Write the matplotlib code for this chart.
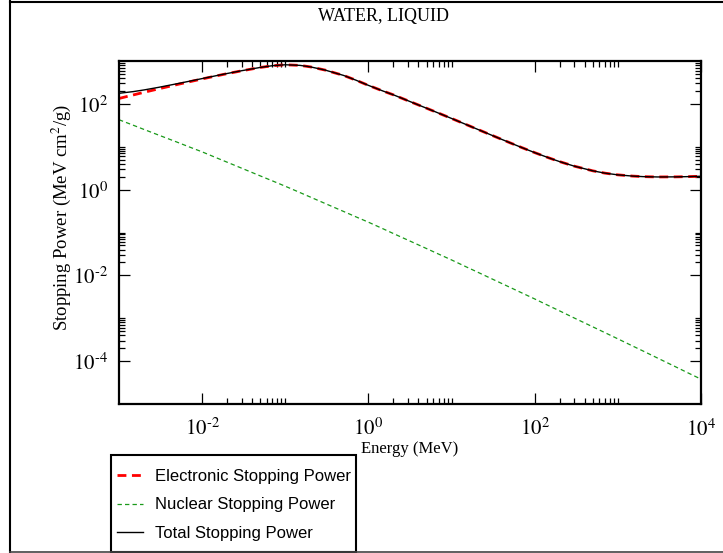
import numpy as np
import matplotlib
matplotlib.use("Agg")
import matplotlib.pyplot as plt
from matplotlib.lines import Line2D
from matplotlib.patches import Rectangle
from matplotlib.ticker import FixedLocator, NullFormatter

plt.rcParams['mathtext.fontset'] = 'stix'

# Proton stopping power in liquid water (MeV cm^2/g)
energy = [1e-3, 1.5e-3, 2e-3, 3e-3, 5e-3, 7e-3, 1e-2, 1.5e-2, 2e-2, 3e-2,
          5e-2, 7e-2, 0.1, 0.15, 0.2, 0.3, 0.5, 0.7, 1, 1.5, 2, 3, 5, 7,
          10, 15, 20, 30, 50, 70, 100, 150, 200, 300, 500, 700, 1000,
          1500, 2000, 3000, 5000, 7000, 10000]

electronic = [133.7, 162.4, 186.1, 224.5, 282.5, 327.2, 381.4, 451.8, 507.0, 591.0,
              706.0, 776.0, 816.0, 790.0, 730.0, 615.0, 462.0, 360.0, 270.0, 199.0,
              162.4, 118.0, 79.1, 60.7, 45.67, 32.92, 26.07, 18.76, 12.45, 9.559,
              7.289, 5.445, 4.492, 3.520, 2.743, 2.423, 2.211, 2.070, 2.010, 1.975,
              1.985, 2.010, 2.050]

nuclear = [42.7, 31.5, 25.3, 18.7, 12.8, 9.9, 7.6, 5.48, 4.36, 3.15,
           2.09, 1.60, 1.20, 0.855, 0.671, 0.477, 0.311, 0.234, 0.174, 0.122,
           0.0944, 0.0661, 0.0422, 0.0313, 0.0229, 0.0158, 0.0122, 0.00843, 0.0053, 0.0039,
           0.00282, 0.00193, 0.00148, 0.00101, 0.00063, 0.000461, 0.000331, 0.000226, 0.000173, 0.000118,
           0.000073, 0.000053, 0.000038]

total = [176.4, 193.9, 211.4, 243.2, 295.3, 337.1, 389.0, 457.3, 511.4, 594.2,
         708.1, 777.6, 817.2, 790.9, 730.7, 615.5, 462.3, 360.2, 270.2, 199.1,
         162.5, 118.1, 79.14, 60.73, 45.69, 32.94, 26.08, 18.77, 12.46, 9.563,
         7.292, 5.447, 4.493, 3.521, 2.744, 2.423, 2.211, 2.070, 2.010, 1.975,
         1.985, 2.010, 2.050]

x_major = [1e-2, 1e0, 1e2, 1e4]
y_major = [1e-4, 1e-2, 1e0, 1e2]
x_labels = [r'$10^{\text{-}2}$', r'$10^{0}$', r'$10^{2}$', r'$10^{4}$']
y_labels = [r'$10^{\text{-}4}$', r'$10^{\text{-}2}$', r'$10^{0}$', r'$10^{2}$']

W, H = 723, 553
fig = plt.figure(figsize=(W / 100, H / 100), dpi=100)
ax = fig.add_axes([119 / W, 1 - 404 / H, 582 / W, 343 / H])

ax.plot(energy, electronic, color='#ff0000', lw=2.0, dashes=(3.2, 2.0),
        label='Electronic Stopping Power')
ax.plot(energy, nuclear, color='#1a9a1a', lw=0.9, dashes=(3.5, 2.5),
        label='Nuclear Stopping Power')
ax.plot(energy, total, color='black', lw=1.0, label='Total Stopping Power')

ax.set_xscale('log')
ax.set_yscale('log')
ax.set_xlim(1e-3, 1e4)
ax.set_ylim(1e-5, 1e3)

# grace-style minor ticks: 2..10 x each major
def minors(majors, lo, hi):
    out = []
    for m in majors + [majors[0] / 100]:
        for k in range(2, 11):
            v = k * m
            if lo < v < hi:
                out.append(v)
    return out

ax.xaxis.set_major_locator(FixedLocator(x_major))
ax.yaxis.set_major_locator(FixedLocator(y_major))
ax.xaxis.set_minor_locator(FixedLocator(minors(x_major, 1e-3, 1e4)))
ax.yaxis.set_minor_locator(FixedLocator(minors(y_major, 1e-5, 1e3)))
ax.set_xticklabels(x_labels)
ax.set_yticklabels(y_labels)
ax.xaxis.set_minor_formatter(NullFormatter())
ax.yaxis.set_minor_formatter(NullFormatter())

ax.tick_params(which='both', direction='in', top=True, right=True, width=0.9)
ax.tick_params(which='major', length=8, labelsize=15)
ax.tick_params(axis='x', which='major', pad=10)
ax.tick_params(axis='y', which='major', pad=8)
ax.tick_params(which='minor', length=4.3)
for s in ax.spines.values():
    s.set_linewidth(1.6)

ax.set_xlabel('Energy (MeV)', family='Liberation Serif', fontsize=12, labelpad=1)
ax.set_ylabel('Stopping Power (MeV cm$^2$/g)', family='Liberation Serif', fontsize=13.5)
ax.yaxis.set_label_coords(-(119 - 73) / 582, 0.545)

fig.text(383 / W, 1 - 16 / H, 'WATER, LIQUID', ha='center', va='center',
         family='Liberation Serif', fontsize=13)

# legend box drawn by hand, entries placed inside it
fig.add_artist(Rectangle((111 / W, 1 / H), 245 / W, 97 / H, transform=fig.transFigure,
                         fill=False, edgecolor='black', lw=1.5))
leg = fig.legend(loc='upper left', bbox_to_anchor=(117 / W, 1 - 469 / H),
                 prop={'family': 'Liberation Sans', 'size': 12},
                 frameon=False, handlelength=1.55, handletextpad=0.75,
                 labelspacing=0.8, borderpad=0, borderaxespad=0)

# outer frame of the picture
fig.add_artist(Line2D([10 / W, 10 / W], [0, 1], transform=fig.transFigure, color='black', lw=1.5))
fig.add_artist(Line2D([10 / W, 1], [1 - 2 / H, 1 - 2 / H], transform=fig.transFigure, color='black', lw=1.5))
fig.add_artist(Line2D([10 / W, 1], [1 / H, 1 / H], transform=fig.transFigure, color='#444444', lw=1.2))

fig.savefig('out.png', dpi=100)
